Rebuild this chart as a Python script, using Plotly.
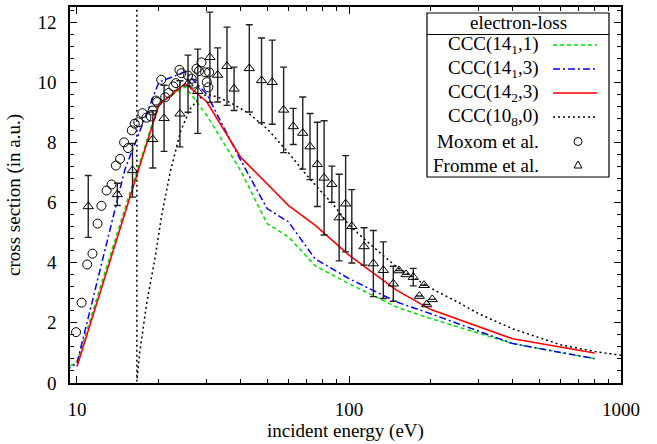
import plotly.graph_objects as go

# ---------------- data ----------------
e_ccc = [10, 15, 20, 25, 30, 40, 50, 60, 75, 100, 150, 200, 400, 800]
ccc_141_1 = [0.70, 5.8, 9.3, 9.85, 8.9, 7.05, 5.3, 4.85, 3.9, 3.3, 2.52, 2.14, 1.31, 0.81]
ccc_141_3 = [0.66, 7.1, 10.0, 10.35, 9.6, 7.4, 5.8, 5.35, 4.13, 3.47, 2.69, 2.3, 1.31, 0.81]
ccc_142_3 = [0.55, 5.6, 9.25, 9.95, 9.35, 7.5, 6.6, 5.9, 5.25, 4.25, 3.08, 2.44, 1.47, 1.0]
lowstart_x = [9.0]
lowstart_141_1 = [0.45]
lowstart_141_3 = [0.40]

e_108 = [16.6, 16.6, 17.0, 18.0, 19.4, 20.5, 22, 24, 26, 28, 30, 33, 37, 43, 50, 60, 70, 80, 90,
         100, 120, 150, 200, 250, 300, 400, 500, 600, 800, 1000]
ccc_108_0 = [40.0, 0.05, 1.0, 2.6, 4.2, 5.6, 7.0, 8.35, 9.1, 9.45, 9.6, 9.5, 9.3, 8.95, 8.45, 7.65, 6.9,
             6.3, 5.8, 5.25, 4.6, 3.85, 3.15, 2.7, 2.3, 1.8, 1.5, 1.27, 1.05, 0.92]

mox_x = [9.42, 9.92, 10.4, 10.9, 11.4, 11.9, 12.3, 12.85, 13.4, 13.9, 14.4, 14.9, 15.4, 15.9, 16.3,
         16.8, 17.4, 18.0, 18.7, 19.0, 19.5, 19.7, 20.4, 21.1, 21.7, 22.6, 23.1, 23.8, 24.2, 25.6,
         26.4, 26.8, 27.5, 28.1, 28.7, 29.6, 30.0, 30.4, 30.6]
mox_y = [1.14, 1.69, 2.67, 3.94, 4.3, 5.3, 5.89, 6.4, 6.6, 7.23, 7.45, 8.0, 7.81, 8.4, 8.62,
         8.67, 8.97, 8.82, 8.86, 9.06, 9.39, 9.34, 10.08, 9.5, 9.64, 9.86, 9.97, 10.41, 10.3, 10.22,
         10.11, 9.95, 10.45, 10.37, 10.66, 10.33, 10.0, 9.83, 10.33]

fro_x = [11.0, 14.07, 16.0, 19.0, 20.9, 23.9, 25.6, 27.8, 30.8, 32.9, 35.6, 37.8, 43.0, 47.7, 52.2,
         57.5, 62.4, 67.6, 71.9, 76.5, 81.0, 86.5, 92.0, 97.2, 102.4, 113.6, 122.9, 133.7, 145.5,
         152.7, 162.1, 172.3, 181.4, 188.7, 193.1, 202.3]
fro_y = [5.87, 6.27, 7.07, 8.1, 8.8, 8.95, 9.95, 9.7, 10.83, 10.24, 10.53, 9.78, 10.46, 10.06, 10.0,
         9.08, 8.53, 8.31, 7.86, 7.27, 6.82, 6.61, 5.5, 5.96, 5.21, 4.54, 3.97, 3.75, 3.30,
         3.74, 3.61, 3.52, 2.89, 3.25, 2.61, 2.78]
fro_err = [1.03, 0.37, 0.89, 0.95, 1.1, 1.1, 0.95, 1.4, 1.5, 0.9, 1.3, 0.72, 1.45, 1.41, 1.4,
           1.42, 0.6, 1.2, 1.1, 1.4, 1.9, 0.6, 1.44, 1.6, 1.22, 0.62, 1.1, 0.94, 0.58,
           0.0, 0.0, 0.29, 0.0, 0.0, 0.0, 0.0]

x_major = [10, 100, 1000]
x_minor = [20, 30, 40, 50, 60, 70, 80, 90, 200, 300, 400, 500, 600, 700, 800, 900]
y_major = [0, 2, 4, 6, 8, 10, 12]

x_title = "incident energy (eV)"
y_title = "cross section (in a.u.)"
legend_title = "electron-loss"
legend_labels = ["CCC(14<sub>1</sub>,1)", "CCC(14<sub>1</sub>,3)", "CCC(14<sub>2</sub>,3)",
                 "CCC(10<sub>8</sub>,0)", "Moxom et al.", "Fromme et al."]

# ---------------- layout geometry ----------------
W, H = 657, 444
ML, MR, MT, MB = 70, 36, 7, 61
PW, PH = W - ML - MR, H - MT - MB
FONT = "Liberation Serif, Times New Roman, serif"
FS = 19

def px(x):
    return (x - ML) / PW

def py(y):
    return (H - MB - y) / PH

GREEN, BLUE, RED = "#00e000", "#0000ff", "#ff0000"

fig = go.Figure()
fig.add_trace(go.Scatter(x=lowstart_x + e_ccc, y=lowstart_141_1 + ccc_141_1, mode="lines",
                         line=dict(color=GREEN, width=1.5, dash="4px,3px")))
fig.add_trace(go.Scatter(x=lowstart_x + e_ccc, y=lowstart_141_3 + ccc_141_3, mode="lines",
                         line=dict(color=BLUE, width=1.5, dash="7px,3px,2px,3px")))
fig.add_trace(go.Scatter(x=e_ccc, y=ccc_142_3, mode="lines",
                         line=dict(color=RED, width=1.6)))
fig.add_trace(go.Scatter(x=e_108, y=ccc_108_0, mode="lines",
                         line=dict(color="black", width=1.5, dash="2px,3px")))
fig.add_trace(go.Scatter(x=mox_x, y=mox_y, mode="markers", cliponaxis=False,
                         marker=dict(symbol="circle-open", size=9, color="black",
                                     line=dict(width=1, color="black"))))
fig.add_trace(go.Scatter(x=fro_x, y=fro_y, mode="markers", cliponaxis=False,
                         error_y=dict(type="data", array=fro_err, visible=True,
                                      color="#222222", thickness=1.4, width=3.5),
                         marker=dict(symbol="triangle-up-open", size=9, color="black",
                                     line=dict(width=1, color="black"))))

axis_common = dict(showline=True, linecolor="black", linewidth=1.5, mirror="allticks",
                   ticks="inside", ticklen=7, tickwidth=1, tickcolor="black",
                   showgrid=False, zeroline=False, automargin=False,
                   tickfont=dict(family=FONT, size=FS, color="black"))

fig.update_xaxes(type="log", range=[0.9743, 3.0], tickvals=x_major,
                 ticktext=[str(v) for v in x_major], ticklabelstandoff=8,
                 minor=dict(ticks="inside", ticklen=4, tickcolor="black", tickvals=x_minor),
                 **axis_common)
fig.update_yaxes(range=[0, 12.5], tickvals=y_major, ticklabelstandoff=8,
                 minor=dict(ticks="inside", ticklen=4, tickcolor="black", dtick=0.4),
                 title=dict(text=y_title, font=dict(family=FONT, size=FS, color="black"),
                            standoff=12),
                 **axis_common)

# ---------------- custom gnuplot-style key ----------------
shapes = []
annotations = []
annotations.append(dict(xref="paper", yref="paper", x=px((ML + W - MR) / 2), y=py(431),
                        text=x_title, showarrow=False, xanchor="center", yanchor="middle",
                        borderpad=0, font=dict(family=FONT, size=FS, color="black")))
box_l, box_r, box_t, box_b = 427, 609, 13, 177
shapes.append(dict(type="rect", xref="paper", yref="paper", x0=px(box_l), x1=px(box_r),
                   y0=py(box_b), y1=py(box_t), line=dict(color="black", width=1.2),
                   fillcolor="white", layer="above"))
shapes.append(dict(type="line", xref="paper", yref="paper", x0=px(box_l), x1=px(box_r),
                   y0=py(34.5), y1=py(34.5), line=dict(color="black", width=1.2)))
annotations.append(dict(xref="paper", yref="paper", x=px(518), y=py(23), text=legend_title,
                        showarrow=False, xanchor="center", yanchor="middle",
                        font=dict(family=FONT, size=FS, color="black")))
rows = [45, 69, 93, 117, 141.5, 165]
styles = [(GREEN, "4px,3px"), (BLUE, "7px,3px,2px,3px"), (RED, "solid"), ("black", "2px,3px")]
for i, (lab, yy) in enumerate(zip(legend_labels, rows)):
    annotations.append(dict(xref="paper", yref="paper", x=px(541), y=py(yy), text=lab,
                            showarrow=False, xanchor="right", yanchor="middle",
                            font=dict(family=FONT, size=FS, color="black")))
    if i < 4:
        col, dsh = styles[i]
        shapes.append(dict(type="line", xref="paper", yref="paper", x0=px(553), x1=px(597),
                           y0=py(yy), y1=py(yy), line=dict(color=col, width=1.5, dash=dsh)))
# marker samples
shapes.append(dict(type="circle", xref="paper", yref="paper", xsizemode="pixel", ysizemode="pixel",
                   xanchor=px(578), yanchor=py(rows[4]), x0=-4, x1=4, y0=-4, y1=4,
                   line=dict(color="black", width=1)))
shapes.append(dict(type="path", xref="paper", yref="paper", xsizemode="pixel", ysizemode="pixel",
                   xanchor=px(578), yanchor=py(rows[5]), path="M -4,-3 L 4,-3 L 0,4 Z",
                   line=dict(color="black", width=1)))

fig.update_layout(width=W, height=H, margin=dict(l=ML, r=MR, t=MT, b=MB, autoexpand=False),
                  paper_bgcolor="white", plot_bgcolor="white", showlegend=False,
                  shapes=shapes, annotations=annotations,
                  font=dict(family=FONT, size=FS, color="black"))

fig.write_html("out.html", config={"displayModeBar": False},
               post_script="document.body.style.margin='0px';")
